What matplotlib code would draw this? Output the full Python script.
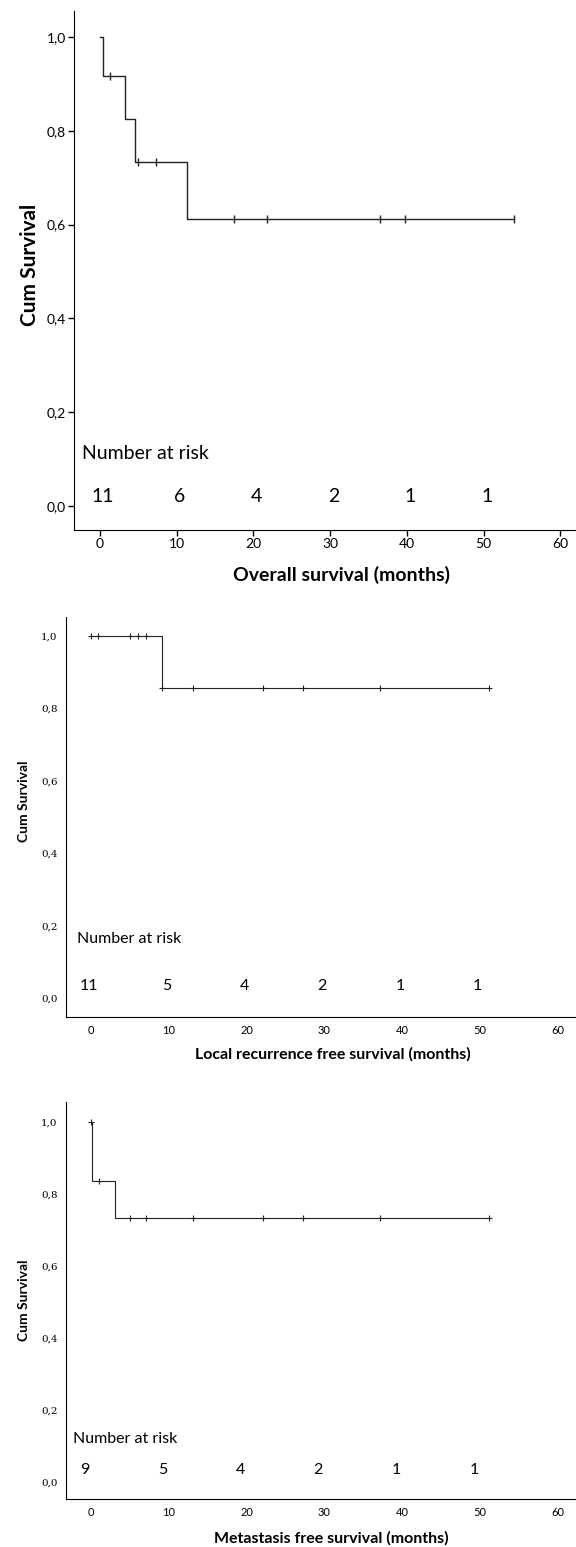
import matplotlib
matplotlib.use("Agg")
import matplotlib.pyplot as plt
import numpy as np

plt.rcParams['font.family'] = ['Lato', 'DejaVu Sans']

# overall survival (months)
os_events = [0.35, 3.2, 4.6, 11.3]
os_surv = [1.0, 0.917, 0.825, 0.733, 0.611]
os_censored = [1.3, 5.0, 7.3, 17.5, 21.8, 36.5, 39.8, 54.0]
os_risk = [11, 6, 4, 2, 1, 1]

# local recurrence free survival
lrfs_events = [9.1]
lrfs_surv = [1.0, 0.857]
lrfs_censored = [0.0, 0.9, 5.0, 6.0, 7.1, 9.15, 13.1, 22.1, 27.2, 37.2, 51.2]
lrfs_risk = [11, 5, 4, 2, 1, 1]

# metastasis free survival
mfs_events = [0.1, 3.1]
mfs_surv = [1.0, 0.836, 0.733]
mfs_censored = [0.0, 1.0, 5.0, 7.1, 13.1, 22.1, 27.2, 37.2, 51.2]
mfs_risk = [9, 5, 4, 2, 1, 1]

risk_times = [0, 10, 20, 30, 40, 50]
x_ticks = [0, 10, 20, 30, 40, 50, 60]
y_ticks = [0.0, 0.2, 0.4, 0.6, 0.8, 1.0]

W, H = 576, 1547
fig = plt.figure(figsize=(W / 100, H / 100), dpi=100)


def px_axes(left, top, right, bottom):
    return fig.add_axes([left / W, 1 - bottom / H, (right - left) / W, (bottom - top) / H])


def km_plot(ax, events, surv, censored, lw, mark, msize):
    end = max(censored)
    xs = [0] + list(events) + [end]
    ys = list(surv) + [surv[-1]]
    ax.step(xs, ys, where="post", color="#222222", lw=lw)
    idx = np.searchsorted(events, censored, side="right")
    cy = [surv[i] for i in idx]
    ax.plot(censored, cy, ls="none", marker=mark, ms=msize, mew=lw, color="#222222")


def comma(v):
    return f"{v:.1f}".replace(".", ",")


def style(ax, xlim, ylim):
    ax.set_xlim(*xlim)
    ax.set_ylim(*ylim)
    for s in ["top", "right"]:
        ax.spines[s].set_visible(False)
    ax.set_xticks(x_ticks)
    ax.set_yticks(y_ticks)
    ax.set_yticklabels([comma(v) for v in y_ticks])


# ---- panel 1 ----
ax1 = px_axes(74, 11, 575, 530)
km_plot(ax1, os_events, os_surv, os_censored, 1.0, "|", 6)
style(ax1, (-3.39, 61.9), (-0.051, 1.055))
ax1.tick_params(direction="out", length=4, width=1, labelsize=10, pad=2)
ax1.set_xlabel("Overall survival (months)", fontsize=14, fontweight="bold")
ax1.set_ylabel("Cum Survival", fontsize=15, fontweight="bold")
ax1.xaxis.set_label_coords(0.533, -0.069)
ax1.yaxis.set_label_coords(-0.068, 0.51)
ax1.text(-2.35, 0.113, "Number at risk", fontsize=14, ha="left", va="center")
for t, n in zip(risk_times, os_risk):
    ax1.text(t + 0.4, 0.02, str(n), fontsize=14, ha="center", va="center")

# ---- panel 2 ----
ax2 = px_axes(66, 617, 575, 1017)
km_plot(ax2, lrfs_events, lrfs_surv, lrfs_censored, 0.8, "+", 5)
style(ax2, (-3.2, 62.2), (-0.052, 1.052))
ax2.tick_params(length=0, labelsize=8, pad=6)
for lab in ax2.get_yticklabels():
    lab.set_family("DejaVu Serif")
    lab.set_fontsize(7.5)
ax2.set_xlabel("Local recurrence free survival (months)", fontsize=11.5, fontweight="bold")
ax2.set_ylabel("Cum Survival", fontsize=10, fontweight="bold")
ax2.xaxis.set_label_coords(0.525, -0.075)
ax2.yaxis.set_label_coords(-0.07, 0.54)
ax2.text(-1.8, 0.163, "Number at risk", fontsize=11.5, ha="left", va="center")
for t, n in zip(risk_times, lrfs_risk):
    ax2.text(t - 0.3, 0.033, str(n), fontsize=11.5, ha="center", va="center")

# ---- panel 3 ----
ax3 = px_axes(66, 1102, 575, 1499)
km_plot(ax3, mfs_events, mfs_surv, mfs_censored, 0.8, "+", 5)
style(ax3, (-3.2, 62.2), (-0.047, 1.056))
ax3.tick_params(length=0, labelsize=8, pad=6)
for lab in ax3.get_yticklabels():
    lab.set_family("DejaVu Serif")
    lab.set_fontsize(7.5)
ax3.set_xlabel("Metastasis free survival (months)", fontsize=11.5, fontweight="bold")
ax3.set_ylabel("Cum Survival", fontsize=10, fontweight="bold")
ax3.xaxis.set_label_coords(0.522, -0.08)
ax3.yaxis.set_label_coords(-0.07, 0.50)
ax3.text(-2.25, 0.12, "Number at risk", fontsize=11.5, ha="left", va="center")
for t, n in zip(risk_times, mfs_risk):
    ax3.text(t - 0.8, 0.033, str(n), fontsize=11.5, ha="center", va="center")

fig.savefig("out.png", dpi=100)
